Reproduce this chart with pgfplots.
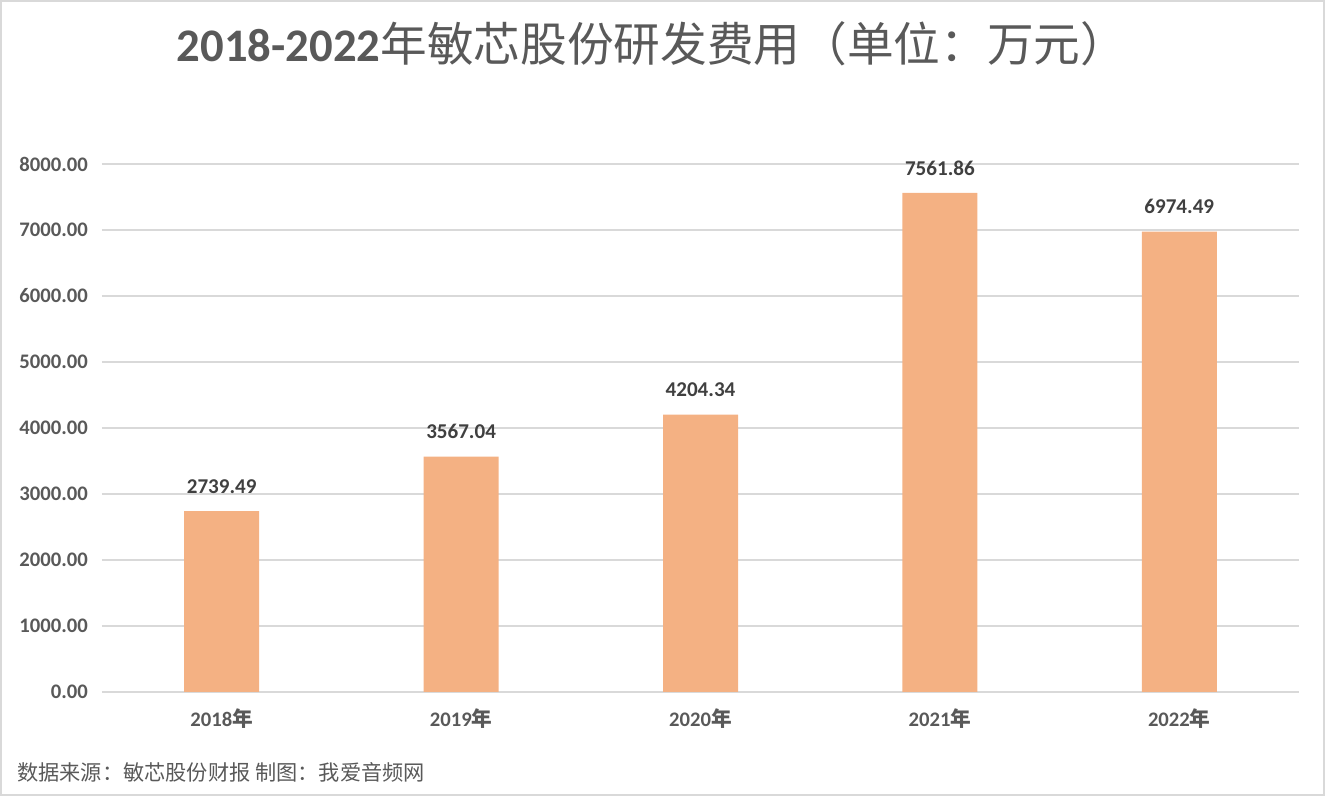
\documentclass[border=0pt]{standalone}
\usepackage{fontspec}
\usepackage{pgfplots}
\pgfplotsset{compat=1.18}
\setmainfont{Carlito}
\newfontfamily\cjk{Noto Sans CJK SC}
\definecolor{barfill}{HTML}{F4B183}
\definecolor{gridc}{HTML}{D9D9D9}
\definecolor{txt}{HTML}{595959}
\definecolor{lbl}{HTML}{404040}

\begin{document}
\begin{tikzpicture}
\useasboundingbox (0pt,0pt) rectangle (993.75pt,597pt);
\draw[gridc, line width=1.5pt] (0.75pt,0.75pt) rectangle (993pt,596.25pt);
\node[anchor=base, text=txt, font=\fontsize{35}{40}\selectfont, inner sep=0pt]
  at (489pt,550.5pt) {\textbf{2018-2022}{\cjk 年敏芯股份研发费用（单位：万元）}};
\node[anchor=west, text=txt, font=\fontsize{15.9}{18}\selectfont\cjk, inner sep=0pt]
  at (12.75pt,18pt) {数据来源：敏芯股份财报 制图：我爱音频网};
\begin{axis}[
  at={(76.5pt,78pt)}, anchor=south west,
  scale only axis,
  width=897.75pt, height=396pt,
  ybar, bar width=56.25pt,
  xmin=-0.5, xmax=4.5,
  ymin=0, ymax=8000,
  ytick={0,1000,...,8000},
  xtick=data,
  xticklabels={{\textbf{2018}{\cjk\bfseries 年}},{\textbf{2019}{\cjk\bfseries 年}},{\textbf{2020}{\cjk\bfseries 年}},{\textbf{2021}{\cjk\bfseries 年}},{\textbf{2022}{\cjk\bfseries 年}}},
  axis x line*=bottom,
  axis y line*=left,
  x axis line style={gridc, line width=1.5pt, -},
  y axis line style={draw=none},
  major tick length=0pt,
  ymajorgrids,
  grid style={gridc, line width=1.5pt},
  /pgf/number format/assume math mode=true,
  yticklabel={\pgfmathprintnumber[fixed,fixed zerofill,precision=2,1000 sep={}]{\tick}},
  yticklabel style={anchor=east, inner sep=0pt, xshift=-10.5pt, text=txt, font=\fontsize{15.5}{18}\selectfont\bfseries},
  xticklabel style={anchor=center, inner sep=0pt, yshift=-20.25pt, text=txt, font=\fontsize{15.5}{18}\selectfont},
  nodes near coords,
  nodes near coords style={anchor=center, inner sep=0pt, yshift=18.75pt, text=lbl, font=\fontsize{15.8}{18}\selectfont\bfseries,
    /pgf/number format/.cd, fixed, fixed zerofill, precision=2, 1000 sep={}},
  clip=false,
]
\addplot[draw=none, fill=barfill] coordinates {(0,2739.49) (1,3567.04) (2,4204.34) (3,7561.86) (4,6974.49)};
\end{axis}
\end{tikzpicture}
\end{document}
